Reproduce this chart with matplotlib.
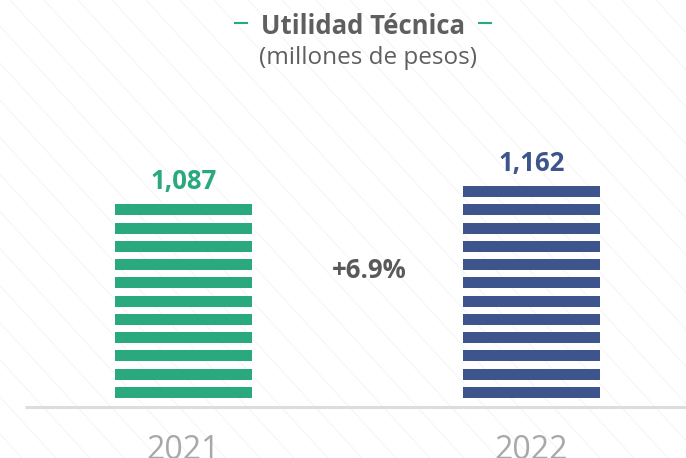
import numpy as np
import matplotlib
matplotlib.use('Agg')
import matplotlib.pyplot as plt

# data
years = ['2021', '2022']
values = [1087, 1162]
colors = ['#2aa87e', '#3d558c']
change = '+6.9%'
title = 'Utilidad Técnica'
subtitle = '(millones de pesos)'

W, H = 686, 458
fig = plt.figure(figsize=(W / 100, H / 100), dpi=100)
fig.patch.set_facecolor('white')

# faint diagonal background lines
bg = fig.add_axes([0, 0, 1, 1], zorder=0)
bg.set_xlim(0, W); bg.set_ylim(0, H); bg.axis('off')
for x0 in np.arange(-500, W + 500, 34):
    bg.plot([x0, x0 + 420], [H, 0], color='#f7f7f7', lw=1.0)

# main axes: pixel mapping -> bars bottom at y=398px from top
pxu = 212 / 1160.0          # px per data unit
base_px = H - 398           # baseline in px from bottom
ax = fig.add_axes([0, 0, 1, 1], zorder=1)
ax.patch.set_alpha(0)
ax.set_ylim(-base_px / pxu, (H - base_px) / pxu)
ax.set_xlim(-183.5 / 348, (W - 183.5) / 348)
ax.axis('off')

period = 100
stripe = 60
width = 137 / 348
for i, (v, c) in enumerate(zip(values, colors)):
    starts = np.arange(0, v, period)
    tops = np.minimum(starts + stripe, v)
    ax.bar([i] * len(starts), tops - starts, bottom=starts, width=width,
           color=c, linewidth=0)
    ax.text(i, tops[-1] + 9 / pxu, f'{v:,}', ha='center', va='bottom',
            color=c, fontsize=18.5, fontweight='bold', family='Open Sans')
    ax.text(i, -(434 - 398) / pxu, years[i], ha='center', va='top',
            color='#a8a8a8', fontsize=23, family='Open Sans')

# baseline
ax.plot([(25 - 183.5) / 348, (W - 183.5) / 348], [-8.5 / pxu] * 2,
        color='#dddddd', lw=2.2, solid_capstyle='butt')

ax.text(0.533, (398 - 270) / pxu, change, ha='center', va='center',
        color='#595959', fontsize=18.5, fontweight='bold', family='Open Sans')

fig.text(363 / W, 1 - 26 / H, title, ha='center', va='center',
         color='#5f5f5f', fontsize=18.5, fontweight='bold', family='Open Sans')
fig.text(368 / W, 1 - 58 / H, subtitle, ha='center', va='center',
         color='#5f5f5f', fontsize=17.5, family='Open Sans')
fig.lines.append(plt.Line2D([235 / W, 247 / W], [1 - 23 / H] * 2,
                            transform=fig.transFigure, color='#2aa87e', lw=1.5))
fig.lines.append(plt.Line2D([479 / W, 491 / W], [1 - 23 / H] * 2,
                            transform=fig.transFigure, color='#2aa87e', lw=1.5))

fig.savefig('out.png', dpi=100)
